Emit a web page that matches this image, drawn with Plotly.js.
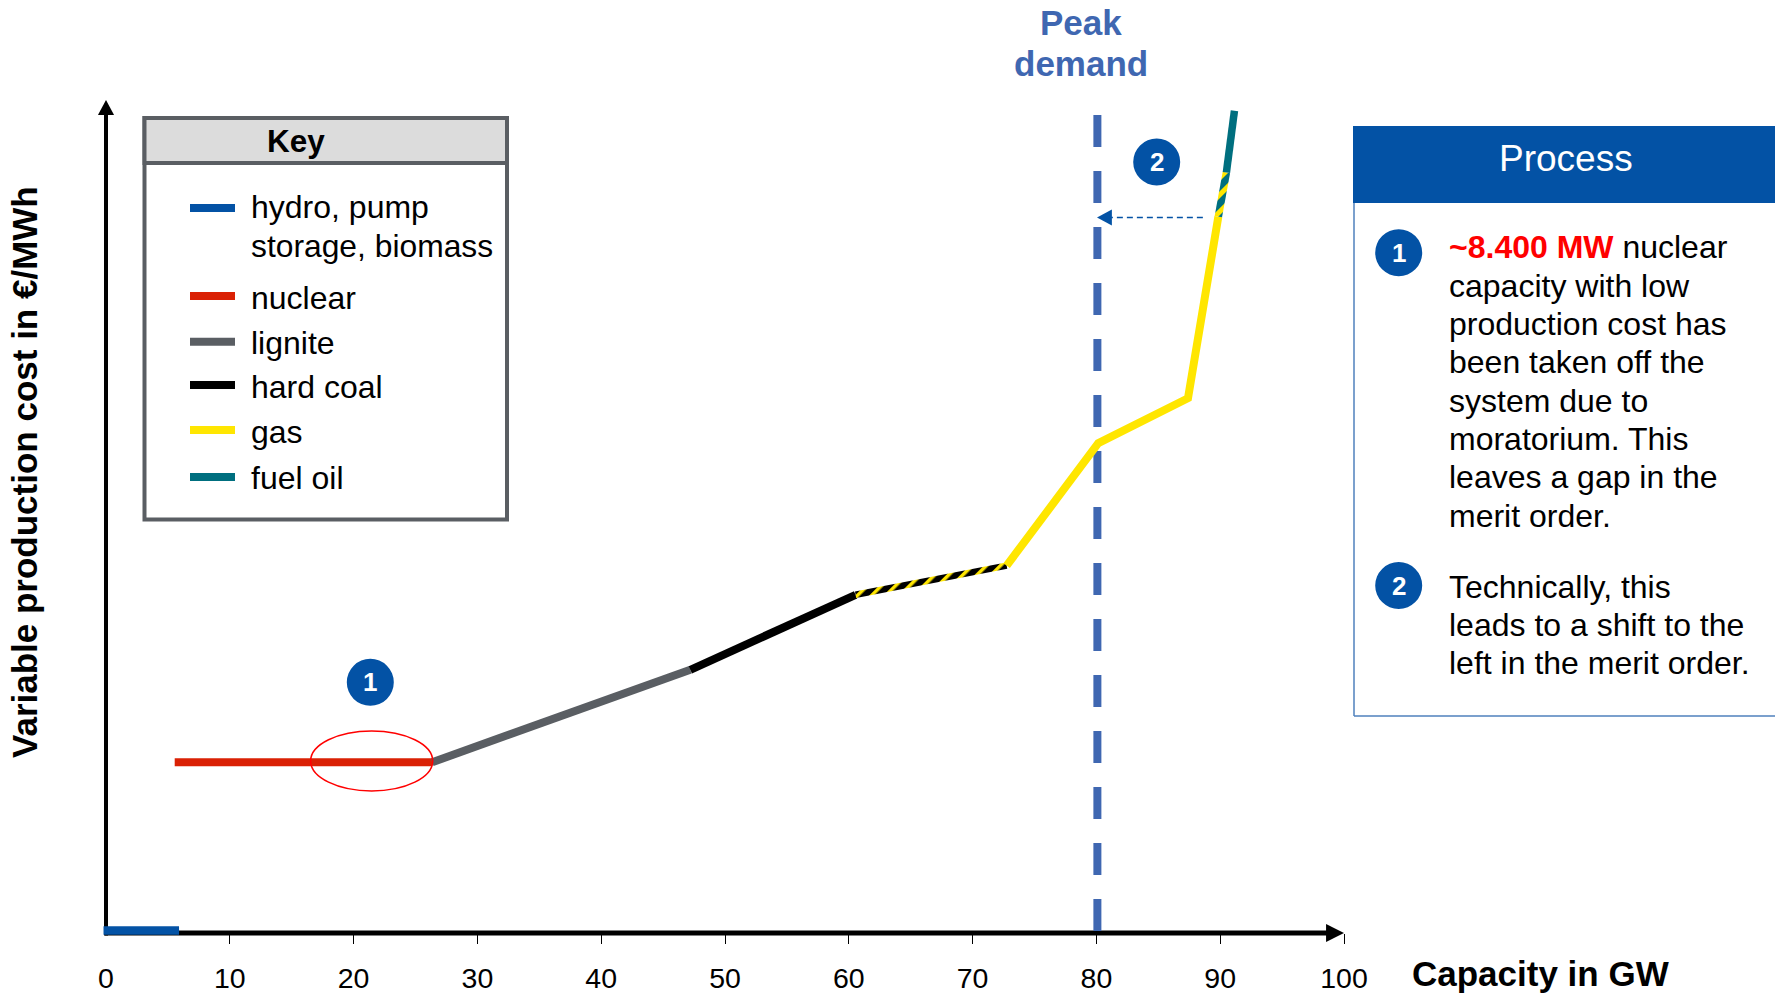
<!DOCTYPE html>
<html>
<head>
<meta charset="utf-8">
<script src="https://cdn.plot.ly/plotly-3.0.1.min.js"></script>
<style>html,body{margin:0;padding:0;background:#fff;overflow:hidden}</style>
</head>
<body>
<div id="chart" style="width:1775px;height:993px"></div>
<script>
// Merit order: capacity in GW against variable production cost (relative scale)
const hydroX = [-0.2, 5.9],        hydroY = [0.3, 0.3];
const nuclearX = [5.55, 26.35],    nuclearY = [20.5, 20.5];
const ligniteX = [26.35, 47.2],    ligniteY = [20.5, 31.6];
const coalX = [47.2, 60.55],       coalY = [31.6, 40.6];
const coalGasX = [60.55, 72.75],   coalGasY = [40.6, 44.1];
const gasX = [72.75, 80.15, 87.4, 89.85], gasY = [44.1, 58.8, 64.2, 86];
const gasOilX = [89.85, 90.5],     gasOilY = [86, 91.3];
const oilX = [90.5, 91.15],        oilY = [91.3, 98.7];
const peakDemand = 80.08;
const shiftFrom = 88.6, shiftTo = 81.2, shiftLevel = 85.9;
const tickValues = [0, 10, 20, 30, 40, 50, 60, 70, 80, 90, 100];
const tickMarks = tickValues.slice(1);

const BLUE = '#0352A5', RED = '#DA2105', GREY = '#5A5E63', BLACK = '#000000',
      YELLOW = '#FFE600', TEAL = '#006F7F', PEAK = '#3F67B1';

const keyNames = ['nuclear', 'lignite', 'hard coal', 'gas', 'fuel oil'];
const keyColors = [RED, GREY, BLACK, YELLOW, TEAL];
const processOne = ['<b><span style="color:#FF0000">~8.400 MW</span></b> nuclear', 'capacity with low',
  'production cost has', 'been taken off the', 'system due to', 'moratorium. This',
  'leaves a gap in the', 'merit order.'];
const processTwo = ['Technically, this', 'leads to a shift to the', 'left in the merit order.'];

// Page pixels to paper fractions for the side panels
const L = 106, R = 1344, T = 100, B = 933;
const fx = p => (p - L) / (R - L);
const fy = p => (B - p) / (B - T);

const FONT = 'Liberation Sans, Arial, sans-serif';
const seg = (x, y, color, width, extra) => ({
  type: 'scatter', mode: 'lines', x, y, hoverinfo: 'skip', showlegend: false, cliponaxis: false,
  line: Object.assign({ color, width, simplify: false }, extra || {})
});

const traces = [
  seg([peakDemand, peakDemand], [98.2, 0.2], PEAK, 8, { dash: '32px,24px' }),
  seg([shiftFrom, shiftTo], [shiftLevel, shiftLevel], BLUE, 1.5, { dash: '6px,4px' }),
  seg(hydroX, hydroY, BLUE, 8.5),
  seg(nuclearX, nuclearY, RED, 8),
  seg(ligniteX, ligniteY, GREY, 8),
  seg(coalX, coalY, BLACK, 8),
  seg(coalGasX, coalGasY, BLACK, 6.5),
  seg(gasX, gasY, YELLOW, 8),
  seg(gasOilX, gasOilY, TEAL, 7.5),
  seg(oilX, oilY, TEAL, 7.5)
];
const HATCH_COAL_GAS = 6, HATCH_GAS_OIL = 8;

const paperRect = (x0, y0, x1, y1, fill, lineColor, lw) => ({
  type: 'rect', xref: 'paper', yref: 'paper', x0: fx(x0), x1: fx(x1), y0: fy(y0), y1: fy(y1),
  fillcolor: fill, line: { color: lineColor || fill, width: lw === undefined ? 0 : lw }, layer: 'above'
});
const paperLine = (x0, y0, x1, y1, color, width) => ({
  type: 'line', xref: 'paper', yref: 'paper', x0: fx(x0), x1: fx(x1), y0: fy(y0), y1: fy(y1),
  line: { color, width }, layer: 'above'
});
const badgeShape = (cx, cy) => ({
  type: 'circle', xref: 'paper', yref: 'paper', x0: fx(cx - 23.5), x1: fx(cx + 23.5),
  y0: fy(cy + 23.5), y1: fy(cy - 23.5), fillcolor: BLUE, line: { width: 0 }, layer: 'above'
});
const note = (x, y, text, size, color, anchor, more) => Object.assign({
  xref: 'paper', yref: 'paper', x: fx(x), y: fy(y), text, showarrow: false,
  xanchor: anchor || 'left', yanchor: 'middle', align: anchor || 'left',
  font: { family: FONT, size, color: color || '#000' }
}, more || {});

const keyY = [296, 341.7, 385, 430, 477];
const keyTextY = [298, 343, 387, 432, 478];
const lineOneY = [247, 286, 324, 362, 401, 439, 477, 516];
const lineTwoY = [587, 625, 663];
const badges = [[370.3, 682.3, '1'], [1156.7, 162, '2'], [1398.7, 252.7, '1'], [1398.7, 585.5, '2']];
const TEXT_LEFT = 1446.6, KEY_LEFT = 248.6;

const shapes = [
  // axis lines with arrow heads, in paper units so they are not clipped at the plot edge
  { type: 'line', xref: 'paper', yref: 'paper', x0: -0.001, x1: 0.988, y0: 0, y1: 0, line: { color: '#000', width: 5 }, layer: 'below' },
  { type: 'line', xref: 'paper', yref: 'paper', x0: 0, x1: 0, y0: -0.003, y1: 0.984, line: { color: '#000', width: 4 }, layer: 'below' },
  { type: 'path', xref: 'paper', yref: 'paper', path: 'M1,0 L0.9855,0.0108 L0.9855,-0.0108 Z', fillcolor: '#000', line: { width: 0 }, layer: 'below' },
  { type: 'path', xref: 'paper', yref: 'paper', path: 'M0,1 L0.0065,0.982 L-0.0065,0.982 Z', fillcolor: '#000', line: { width: 0 }, layer: 'below' },
  // head of the merit-order shift arrow
  { type: 'path', xref: 'x', yref: 'y', path: `M80.05,${shiftLevel} L81.25,${shiftLevel + 0.96} L81.25,${shiftLevel - 0.96} Z`, fillcolor: BLUE, line: { width: 0 }, layer: 'above' },
  // withdrawn nuclear capacity
  { type: 'circle', xref: 'x', yref: 'y', x0: 16.53, x1: 26.39, y0: 17.05, y1: 24.25, line: { color: '#FF0000', width: 1.5 }, layer: 'above' },
  // key box
  paperRect(144.5, 118, 507, 519.5, '#FFFFFF', GREY, 4),
  paperRect(144.5, 118, 507, 163, '#DCDCDC', GREY, 4),
  paperLine(190, 208, 235, 208, BLUE, 8),
  ...keyColors.map((c, i) => paperLine(190, keyY[i], 235, keyY[i], c, 8)),
  // process panel
  paperLine(1354, 202, 1354, 716, '#4F81BD', 1.5),
  paperLine(1354, 716, 1775, 716, '#4F81BD', 1.5),
  paperRect(1353, 126, 1775, 203, BLUE),
  ...badges.map(b => badgeShape(b[0], b[1]))
];

const annotations = [
  note(1081, 22, '<b>Peak</b>', 35, PEAK, 'center'),
  note(1081, 63.4, '<b>demand</b>', 35, PEAK, 'center'),
  note(1410, 973, '<b>Capacity in GW</b>', 35),
  note(24, 472, '<b>Variable production cost in €/MWh</b>', 35, '#000', 'center', { textangle: -90 }),
  note(296, 141, '<b>Key</b>', 31.5, '#000', 'center'),
  note(KEY_LEFT, 207, 'hydro, pump', 32),
  note(KEY_LEFT, 246, 'storage, biomass', 31.8),
  ...keyNames.map((n, i) => note(KEY_LEFT, keyTextY[i], n, 32)),
  note(1565.5, 159, 'Process', 37, '#FFFFFF', 'center'),
  ...processOne.map((t, i) => note(TEXT_LEFT, lineOneY[i], t, 32)),
  ...processTwo.map((t, i) => note(TEXT_LEFT, lineTwoY[i], t, 32)),
  ...badges.map(b => note(b[0], b[1], '<b>' + b[2] + '</b>', 26, '#FFFFFF', 'center'))
];

const layout = {
  width: 1775, height: 993, autosize: false, showlegend: false,
  paper_bgcolor: '#FFFFFF', plot_bgcolor: 'rgba(0,0,0,0)',
  margin: { l: L, r: 1775 - R, t: T, b: 993 - B, pad: 0 },
  xaxis: {
    range: [0, 100], tickmode: 'array', tickvals: tickValues, ticktext: tickValues.map(String),
    ticks: '', showgrid: false, zeroline: false, showline: false, ticklabelstandoff: 25,
    tickfont: { family: FONT, size: 28.5, color: '#000' },
    minor: { tickmode: 'array', tickvals: tickMarks, ticks: 'outside', ticklen: 10, tickwidth: 1, tickcolor: '#000', showgrid: false }
  },
  yaxis: { range: [0, 100], visible: false, showgrid: false, zeroline: false },
  shapes, annotations
};

// Striped stretches where two fuels overlap, painted with SVG patterns on the plotted lines
function addPattern(svg, id, base, period, stripe) {
  const NS = 'http://www.w3.org/2000/svg';
  const defs = svg.querySelector('defs');
  const p = document.createElementNS(NS, 'pattern');
  p.setAttribute('id', id);
  p.setAttribute('patternUnits', 'userSpaceOnUse');
  p.setAttribute('width', period);
  p.setAttribute('height', period);
  p.setAttribute('patternTransform', 'rotate(45)');
  const bg = document.createElementNS(NS, 'rect');
  bg.setAttribute('width', period); bg.setAttribute('height', period); bg.setAttribute('fill', base);
  const st = document.createElementNS(NS, 'rect');
  st.setAttribute('width', stripe); st.setAttribute('height', period); st.setAttribute('fill', YELLOW);
  p.appendChild(bg); p.appendChild(st); defs.appendChild(p);
}

const gd = document.getElementById('chart');
Plotly.newPlot(gd, traces, layout, { displayModeBar: false, staticPlot: true }).then(() => {
  const svg = gd.querySelector('svg.main-svg');
  addPattern(svg, 'stripeCoalGas', BLACK, 10, 3.5);
  addPattern(svg, 'stripeGasOil', TEAL, 12, 5);
  const lines = gd.querySelectorAll('.scatterlayer .trace');
  lines[HATCH_COAL_GAS].querySelector('path.js-line').style.stroke = 'url(#stripeCoalGas)';
  lines[HATCH_GAS_OIL].querySelector('path.js-line').style.stroke = 'url(#stripeGasOil)';
  // the hydro line sits on the axis, so the lines must run past the plot edge
  gd.querySelectorAll('.cartesianlayer, .cartesianlayer *').forEach(el => {
    el.removeAttribute('clip-path');
    el.style.removeProperty('clip-path');
  });
});
</script>
</body>
</html>
